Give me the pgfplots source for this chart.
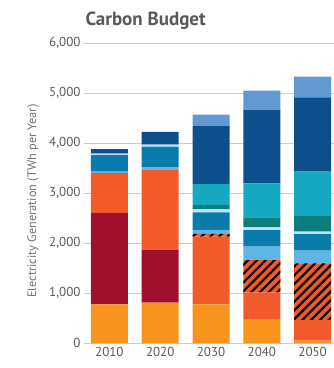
\documentclass[border=0pt]{standalone}
\usepackage{fontspec}
\setmainfont{PT Sans}
\usepackage{pgfplots}
\pgfplotsset{compat=1.18}
\usetikzlibrary{patterns.meta}
\definecolor{cNuc}{HTML}{F7941D}
\definecolor{cCoal}{HTML}{A0102E}
\definecolor{cGas}{HTML}{F15A2B}
\definecolor{cHyd}{HTML}{5DB6E6}
\definecolor{cBio}{HTML}{0A7BAA}
\definecolor{cPale}{HTML}{BFE3F5}
\definecolor{cGeo}{HTML}{0B7F7E}
\definecolor{cWind}{HTML}{14A9C0}
\definecolor{cSol}{HTML}{0C4F8C}
\definecolor{cTop}{HTML}{6399D2}
\definecolor{txt}{HTML}{58595B}
\begin{document}
\begin{tikzpicture}
\begin{axis}[
  at={(84pt,24.7pt)}, anchor=south west,
  scale only axis, width=250pt, height=300pt,
  ybar stacked, bar width=37pt, bar shift=0pt,
  xmin=-0.5, xmax=4.42, ymin=0, ymax=6000,
  xtick=data, xticklabels={2010,2020,2030,2040,2050},
  ytick={0,1000,...,6000},
  axis line style={draw=none},
  major tick length=0pt,
  ymajorgrids, grid style={line width=1.6pt, color=black!20},
  /pgf/number format/assume math mode=true,
  /pgf/number format/1000 sep={,},
  tick label style={font=\fontsize{13}{15}\selectfont, text=txt},
  every axis y label/.style={at={(axis description cs:-0.204,0.474)}, rotate=90, anchor=center},
  ylabel={Electricity Generation (TWh per Year)},
  ylabel style={font=\fontsize{12.3}{14}\selectfont, text=txt!85},
  clip=false,
]
% Nuclear
\addplot[fill=cNuc, draw=none] coordinates {(0,780) (1,812) (2,780) (3,486) (4,53)};
% Coal
\addplot[fill=cCoal, draw=none] coordinates {(0,1830) (1,1054) (2,0) (3,0) (4,0)};
% Gas
\addplot[fill=cGas, draw=none] coordinates {(0,800) (1,1600) (2,1353) (3,534) (4,413)};
% Gas CCS (hatched)
\addplot[fill=cGas, draw=none, postaction={pattern color=black, pattern={Lines[angle=45, distance=6.2pt, line width=2.2pt]}}] coordinates {(0,0) (1,0) (2,54) (3,646) (4,1134)};
% Hydro
\addplot[fill=cHyd, draw=none] coordinates {(0,25) (1,60) (2,80) (3,267) (4,253)};
% Biomass
\addplot[fill=cBio, draw=none] coordinates {(0,330) (1,410) (2,353) (3,333) (4,333)};
% Pale
\addplot[fill=cPale, draw=none] coordinates {(0,30) (1,40) (2,60) (3,54) (4,47)};
% Geothermal
\addplot[fill=cGeo, draw=none] coordinates {(0,0) (1,0) (2,86) (3,200) (4,313)};
% Wind
\addplot[fill=cWind, draw=none] coordinates {(0,0) (1,0) (2,420) (3,680) (4,887)};
% Solar / dark blue
\addplot[fill=cSol, draw=none] coordinates {(0,90) (1,255) (2,1160) (3,1466) (4,1487)};
% Top
\addplot[fill=cTop, draw=none] coordinates {(0,0) (1,0) (2,227) (3,386) (4,413)};
\end{axis}
\node[anchor=west, font=\fontsize{19}{21}\selectfont\bfseries, text=txt] at (82pt,347pt) {Carbon Budget};
\pgfresetboundingbox
\path[use as bounding box] (0,0) rectangle (334pt,368pt);
\end{tikzpicture}
\end{document}
